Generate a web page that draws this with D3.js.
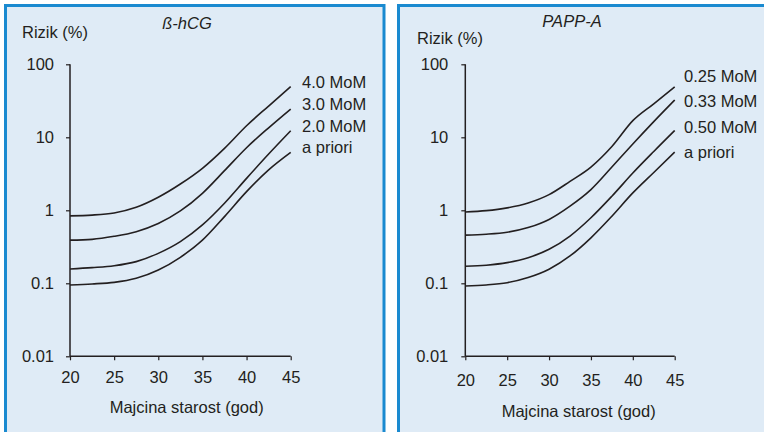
<!DOCTYPE html>
<html>
<head>
<meta charset="utf-8">
<script src="https://cdn.jsdelivr.net/npm/d3@7"></script>
<style>
  html, body { margin: 0; padding: 0; background: #ffffff; }
  svg { display: block; }
  text { font-family: "Liberation Sans", Arial, sans-serif; fill: #231f20; }
</style>
</head>
<body>
<svg id="chart" width="764" height="432"></svg>
<script>
// ---- data ----
const ages = [20, 22.5, 25, 27.5, 30, 32.5, 35, 37.5, 40, 42.5, 45];
const xTicks = [20, 25, 30, 35, 40, 45];
const yTicks = [100, 10, 1, 0.1, 0.01];
const yTickLabels = ["100", "10", "1", "0.1", "0.01"];

// left panel: ß-hCG
const hcgTitle = "ß-hCG";
const hcgLabels = ["4.0 MoM", "3.0 MoM", "2.0 MoM", "a priori"];
const hcg40 = [0.84, 0.86, 0.92, 1.10, 1.51, 2.29, 3.76, 7.06, 14.4, 26.8, 49.4];
const hcg30 = [0.39, 0.40, 0.44, 0.51, 0.66, 0.98, 1.71, 3.49, 7.2, 13.5, 24.4];
const hcg20 = [0.157, 0.164, 0.174, 0.198, 0.257, 0.372, 0.63, 1.25, 2.74, 5.9, 12.3];
const hcgPrior = [0.095, 0.098, 0.103, 0.117, 0.152, 0.227, 0.39, 0.82, 1.80, 3.57, 6.2];

// right panel: PAPP-A
const pappTitle = "PAPP-A";
const pappLabels = ["0.25 MoM", "0.33 MoM", "0.50 MoM", "a priori"];
const papp025 = [0.95, 0.99, 1.08, 1.26, 1.64, 2.49, 3.91, 7.48, 16.9, 28.8, 49.2];
const papp033 = [0.457, 0.47, 0.50, 0.58, 0.75, 1.14, 1.92, 3.91, 8.1, 16.4, 32.4];
const papp050 = [0.171, 0.177, 0.192, 0.224, 0.292, 0.444, 0.79, 1.56, 3.24, 6.4, 12.4];
const pappPrior = [0.092, 0.095, 0.102, 0.120, 0.156, 0.237, 0.42, 0.83, 1.73, 3.30, 6.27];

const yTitle = "Rizik (%)";
const xTitle = "Majcina starost (god)";

// ---- drawing ----
const svg = d3.select("#chart");
const bg = "#dfebf6";
const border = "#1a8ad0";
const fs = 16.5;

// panel backgrounds
svg.append("rect").attr("x", 5.5).attr("y", 5.5).attr("width", 378.5).attr("height", 440)
  .attr("fill", bg).attr("stroke", border).attr("stroke-width", 3);
svg.append("rect").attr("x", 398.5).attr("y", 5.5).attr("width", 380).attr("height", 440)
  .attr("fill", bg).attr("stroke", border).attr("stroke-width", 3);

function panel(cfg) {
  const x = d3.scaleLinear().domain([20, 45]).range([cfg.x0, cfg.x1]);
  const y = d3.scaleLog().domain([0.01, 100]).range([356.3, 64.3]);
  const g = svg.append("g");

  const yAxis = d3.axisLeft(y).tickValues(yTicks)
    .tickFormat((d, i) => yTickLabels[i]).tickSize(4).tickPadding(cfg.yPad);
  const ya = g.append("g").attr("transform", `translate(${cfg.x0},0)`).call(yAxis);
  const xAxis = d3.axisBottom(x).tickValues(xTicks).tickSize(4).tickPadding(cfg.xPad);
  const xa = g.append("g").attr("transform", `translate(0,356.3)`).call(xAxis);
  [ya, xa].forEach(a => {
    a.select(".domain").attr("stroke", "#231f20").attr("stroke-width", 1.5)
      .attr("d", a === ya ? `M-0,64.3V356.3` : `M${cfg.x0},0H${cfg.x1}`);
    a.selectAll(".tick line").attr("stroke", "#231f20").attr("stroke-width", 1.2);
    a.selectAll(".tick text").attr("font-size", fs)
      .attr("font-family", "'Liberation Sans', Arial, sans-serif").attr("fill", "#231f20");
  });

  const line = d3.line().x((d, i) => x(ages[i])).y(d => y(d)).curve(d3.curveMonotoneX);
  cfg.series.forEach(s => {
    g.append("path").attr("d", line(s)).attr("fill", "none")
      .attr("stroke", "#231f20").attr("stroke-width", 1.6);
  });

  cfg.labels.forEach((t, i) => {
    g.append("text").attr("x", cfg.lx).attr("y", cfg.ly[i]).attr("font-size", fs).text(t);
  });

  g.append("text").attr("x", cfg.tx).attr("y", cfg.ty).attr("text-anchor", "middle")
    .attr("font-size", fs).attr("font-style", "italic").text(cfg.title);
  g.append("text").attr("x", cfg.yx).attr("y", cfg.yy).attr("font-size", fs).text(yTitle);
  g.append("text").attr("x", cfg.xtx).attr("y", cfg.xty).attr("text-anchor", "middle")
    .attr("font-size", fs).text(xTitle);
}

panel({
  x0: 70, x1: 290.7, yPad: 12, xPad: 11,
  series: [hcg40, hcg30, hcg20, hcgPrior],
  labels: hcgLabels, lx: 302, ly: [87.5, 110, 131.5, 153],
  title: hcgTitle, tx: 187, ty: 29,
  yx: 22, yy: 37.5,
  xtx: 186.7, xty: 412.5
});

panel({
  x0: 465.3, x1: 674.7, yPad: 13, xPad: 14,
  series: [papp025, papp033, papp050, pappPrior],
  labels: pappLabels, lx: 684, ly: [81.5, 107, 133, 158],
  title: pappTitle, tx: 572, ty: 27,
  yx: 417, yy: 43.5,
  xtx: 578.7, xty: 417
});
</script>
</body>
</html>
